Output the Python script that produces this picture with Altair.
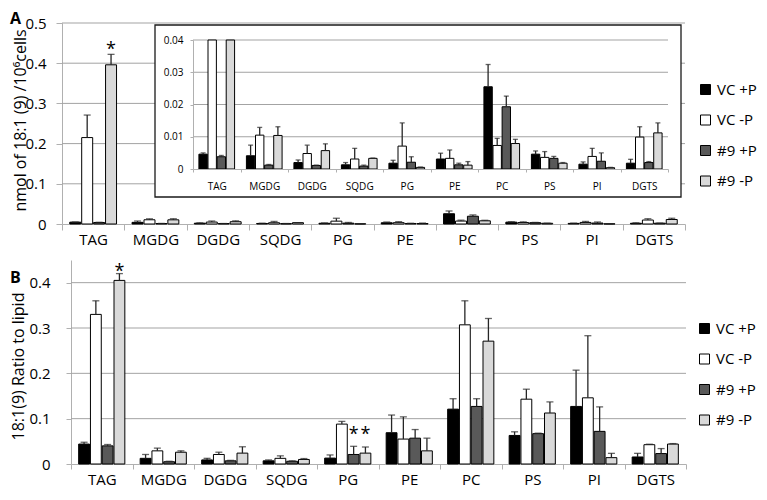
import altair as alt
import pandas as pd

categories = ["TAG", "MGDG", "DGDG", "SQDG", "PG", "PE", "PC", "PS", "PI", "DGTS"]
series = ["VC +P", "VC -P", "#9 +P", "#9 -P"]
fills = ["#000000", "#ffffff", "#595959", "#d9d9d9"]

# Panel A: nmol of 18:1(9) per 10^6 cells (mean and error)
a_vcp     = [0.0046, 0.0041, 0.0020, 0.0013, 0.0018, 0.0031, 0.0255, 0.0046, 0.0015, 0.0018]
a_vcp_err = [0.0004, 0.0033, 0.0008, 0.0007, 0.0009, 0.0018, 0.0069, 0.0010, 0.0007, 0.0012]
a_vcm     = [0.215, 0.0105, 0.0048, 0.0031, 0.0071, 0.0033, 0.0073, 0.0036, 0.0039, 0.0099]
a_vcm_err = [0.056, 0.0024, 0.0026, 0.0033, 0.0072, 0.0026, 0.0022, 0.0018, 0.0025, 0.0032]
a_9p      = [0.0038, 0.0012, 0.0011, 0.0009, 0.0021, 0.0013, 0.0193, 0.0033, 0.0024, 0.0020]
a_9p_err  = [0.0004, 0.0002, 0.0001, 0.0003, 0.0017, 0.0005, 0.0033, 0.0006, 0.0026, 0.0003]
a_9m      = [0.396, 0.0104, 0.0057, 0.0033, 0.0005, 0.0012, 0.0079, 0.0018, 0.0004, 0.0112]
a_9m_err  = [0.026, 0.0027, 0.0021, 0.0001, 0.0001, 0.0011, 0.0013, 0.0002, 0.0001, 0.0031]

# Panel B: 18:1(9) ratio to lipid (mean and error)
b_vcp     = [0.044, 0.0125, 0.009, 0.007, 0.013, 0.069, 0.121, 0.063, 0.127, 0.0155]
b_vcp_err = [0.004, 0.0085, 0.0035, 0.002, 0.007, 0.039, 0.023, 0.008, 0.080, 0.008]
b_vcm     = [0.330, 0.029, 0.021, 0.0125, 0.088, 0.055, 0.307, 0.143, 0.146, 0.0426]
b_vcm_err = [0.030, 0.006, 0.005, 0.0055, 0.006, 0.049, 0.053, 0.022, 0.137, 0.001]
b_9p      = [0.040, 0.005, 0.007, 0.006, 0.021, 0.057, 0.127, 0.067, 0.072, 0.023]
b_9p_err  = [0.003, 0.001, 0.001, 0.001, 0.018, 0.019, 0.017, 0.001, 0.054, 0.011]
b_9m      = [0.405, 0.026, 0.024, 0.010, 0.024, 0.029, 0.271, 0.1125, 0.014, 0.044]
b_9m_err  = [0.015, 0.003, 0.014, 0.002, 0.0135, 0.028, 0.050, 0.0245, 0.0095, 0.001]

# significance marks: (category, series, y-position, text)
a_stars = [("TAG", "#9 -P", 0.445, "*")]
b_stars = [("TAG", "#9 -P", 0.435, "*"), ("PG", "#9 +P", 0.075, "*"), ("PG", "#9 -P", 0.075, "*")]

a_ticks = [0, 0.1, 0.2, 0.3, 0.4, 0.5]
i_ticks = [0, 0.01, 0.02, 0.03, 0.04]
b_ticks = [0, 0.1, 0.2, 0.3, 0.4]

# ---------------- layout (pixels inside the chart) ----------------
W, H = 751, 484
XA, YA = [54, 677], [216, 15]
XI, YI = [185, 660], [161, 32]
XB, YB = [63, 678], [456, 252]
BOX = (147, 673, 17, 189)
GRID = "#a3a3a3"
AXC = "#b0b0b0"
ERR = "#262626"
FONT = "Open Sans"


def long_df(vals, errs):
    rows = []
    for s, v, e in zip(series, vals, errs):
        for c, vi, ei in zip(categories, v, e):
            rows.append({"category": c, "series": s, "value": vi, "top": vi + ei})
    return pd.DataFrame(rows)


dfA = long_df([a_vcp, a_vcm, a_9p, a_9m], [a_vcp_err, a_vcm_err, a_9p_err, a_9m_err])
dfB = long_df([b_vcp, b_vcm, b_9p, b_9m], [b_vcp_err, b_vcm_err, b_9p_err, b_9m_err])
starA = pd.DataFrame(a_stars, columns=["category", "series", "value", "text"])
starB = pd.DataFrame(b_stars, columns=["category", "series", "value", "text"])

common = dict(domainColor=AXC, tickColor=AXC, labelColor="#000000", grid=False,
              labelFont=FONT, titleFont=FONT, titleColor="#000000")


def panel(df, grid_vals, xr, yr, ydom, xaxis, yaxis, legend, stars=None,
          clamp=False, cap=7, err_filter=None):
    X = alt.X("category:N", scale=alt.Scale(domain=categories, range=xr,
                                            paddingInner=0, paddingOuter=0), axis=xaxis)
    XO = alt.XOffset("series:N", scale=alt.Scale(domain=series, paddingInner=0.08,
                                                 paddingOuter=0.65))
    ys = alt.Scale(domain=ydom, range=yr, nice=False, zero=True, clamp=clamp)
    Y = alt.Y("value:Q", scale=ys, axis=yaxis)
    Ytop = alt.Y("top:Q", scale=ys, axis=yaxis)
    C = alt.Color("series:N", scale=alt.Scale(domain=series, range=fills), legend=legend)

    grid = alt.Chart(pd.DataFrame({"value": grid_vals})).mark_rule(
        color=GRID, strokeWidth=1).encode(y=Y, x=alt.value(xr[0]), x2=alt.value(xr[1]))
    bars = alt.Chart(df).mark_bar(stroke="#000000", strokeWidth=1).encode(
        x=X, xOffset=XO, y=Y, color=C)
    errbase = alt.Chart(df)
    if err_filter:
        errbase = errbase.transform_filter(err_filter)
    err = errbase.mark_rule(color=ERR, strokeWidth=1.3).encode(
        x=X, xOffset=XO, y=Y, y2="top")
    caps = errbase.mark_tick(color=ERR, thickness=1.3, size=cap).encode(
        x=X, xOffset=XO, y=Ytop)
    layers = [grid, bars, err, caps]
    if stars is not None:
        layers.append(alt.Chart(stars).mark_text(fontSize=18, dy=5, color="#000000",
                                                 font=FONT).encode(
            x=X, xOffset=XO, y=Y, text="text:N"))
    return alt.layer(*layers).properties(width=W, height=H)


def legend(x, y, row):
    return alt.Legend(orient="none", legendX=x, legendY=y, title=None,
                      symbolType="square", symbolSize=100, symbolStrokeColor="#000000",
                      symbolStrokeWidth=1, labelFontSize=15, labelFont=FONT,
                      labelColor="#000000", labelOffset=4, rowPadding=row, padding=0)


# Panel A main
yA = alt.Axis(orient="left", offset=-XA[0], values=a_ticks, format="~g", tickSize=6,
              labelPadding=10, labelFontSize=15, title="nmol of 18:1 (9) /10⁶cells",
              titleFontSize=16, titleFontWeight="normal", titleAngle=270, titleX=-37,
              titleY=112, titleAlign="center", titleBaseline="alphabetic", **common)
xA = alt.Axis(orient="bottom", offset=YA[0] - H, tickBand="extent", tickSize=6,
              labelPadding=2, labelFontSize=15, labelAngle=0, title=None, **common)
panelA = panel(dfA, a_ticks[1:], XA, YA, [0, 0.5], xA, yA, legend(690, 74, 14.5),
               stars=starA)

# Inset box
box = alt.Chart(pd.DataFrame({"k": [0]})).mark_rect(
    fill="#ffffff", stroke="#1a1a1a", strokeWidth=1.3).encode(
    x=alt.value(BOX[0]), x2=alt.value(BOX[1]), y=alt.value(BOX[2]), y2=alt.value(BOX[3]))

# Inset
yI = alt.Axis(orient="left", offset=-XI[0], values=i_ticks, format="~g", tickSize=3,
              labelPadding=7, labelFontSize=10, title=None, zindex=1, **common)
xI = alt.Axis(orient="bottom", offset=YI[0] - H, tickBand="extent", tickSize=3,
              labelPadding=9, labelFontSize=10, labelAngle=0, title=None, zindex=1, **common)
inset = panel(dfA, i_ticks[1:], XI, YI, [0, 0.04], xI, yI, None, clamp=True, cap=5,
              err_filter="datum.top <= 0.04")

# Panel B
yB = alt.Axis(orient="left", offset=-XB[0], values=b_ticks, format="~g", tickSize=5,
              labelPadding=16, labelFontSize=15, title="18:1(9) Ratio to lipid",
              titleFontSize=16, titleFontWeight="normal", titleAngle=270, titleX=-48,
              titleY=358, titleAlign="center", titleBaseline="alphabetic", **common)
xB = alt.Axis(orient="bottom", offset=YB[0] - H, tickBand="extent", tickSize=5,
              labelPadding=3, labelFontSize=15, labelAngle=0, title=None, **common)
panelB = panel(dfB, b_ticks[1:], XB, YB, [0, 0.45], xB, yB, legend(689, 313, 14.5),
               stars=starB)

letterA = alt.Chart(pd.DataFrame({"t": ["A"]})).mark_text(
    fontSize=16, fontWeight="bold", align="left", baseline="top", font=FONT).encode(
    text="t:N", x=alt.value(2), y=alt.value(3))
letterB = alt.Chart(pd.DataFrame({"t": ["B"]})).mark_text(
    fontSize=16, fontWeight="bold", align="left", baseline="top", font=FONT).encode(
    text="t:N", x=alt.value(2), y=alt.value(262))

chart = alt.layer(panelA, box, inset, panelB, letterA, letterB).resolve_scale(
    x="independent", y="independent", color="independent", xOffset="independent"
).resolve_axis(x="independent", y="independent").resolve_legend(
    color="independent"
).properties(
    width=W, height=H, padding=0, autosize=alt.AutoSizeParams(type="none")
).configure(font=FONT).configure_view(stroke=None)

chart.save("out.html", embed_options={"renderer": "svg", "actions": False})
